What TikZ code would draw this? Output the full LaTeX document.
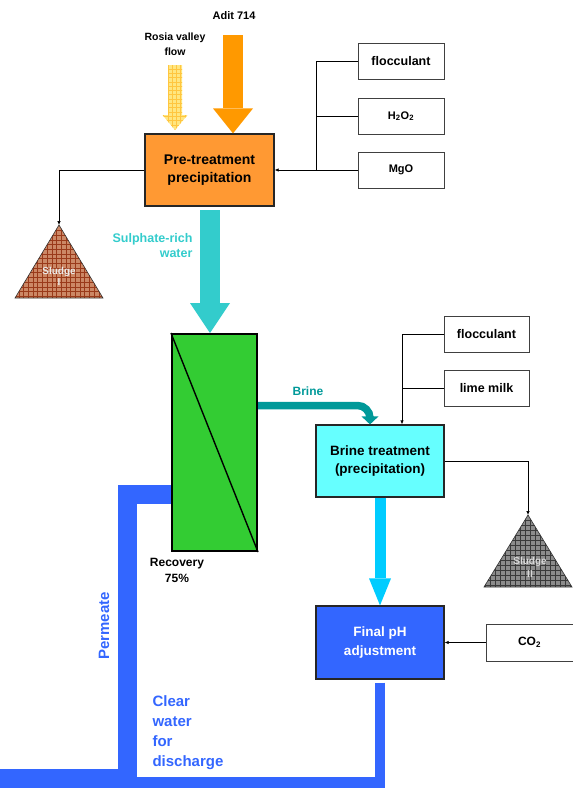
\documentclass[tikz,border=0pt]{standalone}
\usepackage{fontspec}
\setmainfont{Liberation Sans}
\usetikzlibrary{arrows.meta, positioning, backgrounds, calc}
\usepackage{xcolor}
\definecolor{ptorange}{HTML}{FF9933}
\definecolor{aditorange}{HTML}{FF9900}
\definecolor{rosiafill}{HTML}{FFE680}
\definecolor{rosiagrid}{HTML}{FFC640}
\definecolor{sulphcyan}{HTML}{33CCCC}
\definecolor{colgreen}{HTML}{33CC33}
\definecolor{brineteal}{HTML}{009999}
\definecolor{brinecyan}{HTML}{66FFFF}
\definecolor{downcyan}{HTML}{00CCFF}
\definecolor{pipeblue}{HTML}{3366FF}
\definecolor{sludgebrown}{HTML}{CC8866}
\definecolor{sludgebrowngrid}{HTML}{9A3A1A}
\definecolor{sludgegray}{HTML}{8C8C8C}
\definecolor{sludgegraygrid}{HTML}{3A3A3A}

\begin{document}
\begin{tikzpicture}[x=1pt, y=1pt,
    procbox/.style={rectangle, draw=black!85, line width=1.2pt, fill=#1,
                    minimum width=128pt, minimum height=72pt, align=center,
                    font=\bfseries\fontsize{13.5}{18}\selectfont},
    chembox/.style={rectangle, draw=black!75, line width=0.8pt, fill=white,
                    minimum width=86pt, minimum height=36pt,
                    font=\bfseries\fontsize{12.5}{15}\selectfont},
    branch/.style={line width=0.7pt},
    feed/.style={-{Latex[length=4pt,width=3.5pt]}, line width=0.7pt},
    fatarrow/.style n args={4}{draw=#1, line width=#2,
                    -{Triangle[width=#3, length=#4, line width=0pt]}},
    gridfill/.style n args={3}{fill=#1, path picture={
        \draw[#2, line width=0.35pt] (path picture bounding box.south west)
          grid[step=#3] (path picture bounding box.north east);}},
    lbl/.style={font=\bfseries\fontsize{#1}{#1}\selectfont, align=center}
  ]
    \useasboundingbox (0,0) rectangle (573,-812);

    % process units
    \node[procbox=ptorange, minimum width=129pt, font=\bfseries\fontsize{14}{18}\selectfont] (pretreat) at (209.5,-170) {Pre-treatment\\precipitation};
    \node[rectangle, draw=black, line width=2pt, fill=colgreen, minimum width=85pt, minimum height=217pt] (column) at (214.5,-442.5) {};
    \draw[line width=1.4pt] (column.north west) -- (column.south east);
    \node[procbox=brinecyan] (brinetreat) at (380,-461) {Brine treatment\\(precipitation)};
    \node[procbox=pipeblue, text=white, minimum height=73pt] (finalph) at (380,-642.5) {Final pH\\adjustment};

    % reagents
    \node[chembox] (floccA) at (401,-61) {flocculant};
    \node[chembox, font=\bfseries\fontsize{11}{13}\selectfont] (hydro) at (401,-116) {H\textsubscript{2}O\textsubscript{2}};
    \node[chembox, font=\bfseries\fontsize{11}{13}\selectfont] (magox) at (401,-170) {MgO};
    \node[chembox, minimum width=85pt] (floccB) at (486.5,-334) {flocculant};
    \node[chembox, minimum width=85pt] (limemilk) at (486.5,-388.5) {lime milk};
    \node[chembox, minimum width=87pt, minimum height=37pt, font=\bfseries\fontsize{12}{14}\selectfont] (carbdiox) at (529.5,-642.5) {CO\textsubscript{2}};

    % sludge heaps
    \coordinate (sludgeItop) at (59,-225);
    \coordinate (sludgeIItop) at (528,-515);
    \filldraw[gridfill={sludgebrown}{sludgebrowngrid}{4.7pt}, draw=black!80, line width=0.6pt] (sludgeItop) -- ++(-44,-73) -- ++(88,0) -- cycle;
    \filldraw[gridfill={sludgegray}{sludgegraygrid}{5pt}, draw=black!80, line width=0.6pt] (sludgeIItop) -- ++(-44,-72) -- ++(88,0) -- cycle;
    \node[lbl=10, text=white!92!black] (sludgeIlbl) at (59,-276) {Sludge\\[1pt]I};
    \node[lbl=10, text=white!85!black] (sludgeIIlbl) at (530,-567) {Sludge\\[3pt]II};

    % inflows
    \node[lbl=11] (aditlbl) at (234,-16) {Adit 714};
    \node[font=\bfseries\fontsize{10.5}{15}\selectfont, align=center] (rosialbl) at (175,-44) {Rosia valley\\flow};
    \coordinate (adittop) at (233,-35);
    \coordinate (rosiatop) at (175,-65);
    \draw[fatarrow={aditorange}{20pt}{40pt}{25pt}] (adittop) -- (adittop |- pretreat.north);
    \path[gridfill={rosiafill}{rosiagrid}{4.3pt}] (rosiatop) ++(-7,0) -- ++(0,-50) -- ++(-5.5,0) -- ++(12.5,-15) -- ++(12.5,15) -- ++(-5.5,0) -- ++(0,50) -- cycle;

    % reagent feeds
    \coordinate (pretrunk) at (316,-170);
    \draw[branch] (floccA.west) -| (pretrunk);
    \draw[branch] (hydro.west) -- (hydro.west -| pretrunk);
    \draw[feed] (magox.west) -- (pretreat.east);
    \coordinate (brtrunk) at (brinetreat.north -| 402,0);
    \draw[feed] (floccB.west) -| (brtrunk);
    \draw[branch] (limemilk.west) -- (limemilk.west -| brtrunk);
    \draw[feed] (carbdiox.west) -- (finalph.east);
    \draw[feed] (pretreat.west) -| (sludgeItop);
    \draw[feed] (brinetreat.east) -| (sludgeIItop);

    % main water flows
    \coordinate (sulphtop) at (210,-210);
    \draw[fatarrow={sulphcyan}{20pt}{40pt}{30pt}] (sulphtop) -- (sulphtop |- column.north);
    \node[font=\bfseries\fontsize{12.5}{15}\selectfont, text=sulphcyan, align=right, anchor=east] (sulphlbl) at (196,-246) {Sulphate-rich\\water};
    \draw[brineteal, line width=7.5pt, -{Triangle[width=17pt, length=8pt, line width=0pt]}] (column.east |- 0,-405.5) -- (357.5,-405.5) arc[start angle=90, end angle=0, radius=12.5] -- (brinetreat.north -| 370,0);
    \node[lbl=12, text=brineteal] (brinelbl) at (308,-391) {Brine};
    \draw[fatarrow={downcyan}{11pt}{22pt}{27pt}] (brinetreat.south) -- (finalph.north);
    \node[font=\bfseries\fontsize{12}{16}\selectfont, align=center] (recovlbl) at (177,-570) {Recovery\\75\%};

    % permeate and discharge
    \coordinate (outlet) at (0,-778);
    \coordinate (pipejoin) at (130,-782.5);
    \begin{scope}[on background layer]
      \draw[pipeblue, line width=19pt, line join=miter] (column.west |- 0,-494) -- (127.5,-494) -- (127.5,-778) -- (outlet);
      \draw[pipeblue, line width=10.5pt, line join=miter] ([yshift=-3pt]finalph.south) |- (pipejoin);
    \end{scope}
    \node[rotate=90, text=pipeblue, font=\bfseries\fontsize{15}{18}\selectfont] (permlbl) at (104,-626) {Permeate};
    \node[text=pipeblue, font=\bfseries\fontsize{15}{20}\selectfont, align=left, anchor=west] (clearlbl) at (149,-733) {Clear\\water\\for\\discharge};
  \end{tikzpicture}
\end{document}
